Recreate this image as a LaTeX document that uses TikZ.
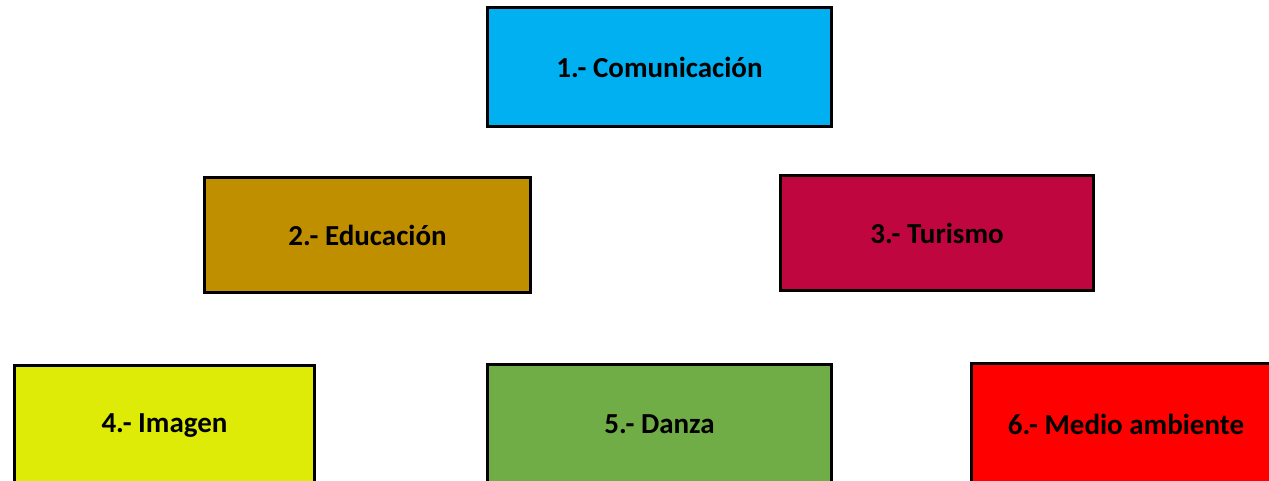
\documentclass[tikz,border=0pt]{standalone}
\usepackage{fontspec}
\setmainfont{Carlito}
\definecolor{cBlue}{HTML}{00B0F0}
\definecolor{cGold}{HTML}{BF8F00}
\definecolor{cRose}{HTML}{C0063E}
\definecolor{cLime}{HTML}{DDEB07}
\definecolor{cGreen}{HTML}{70AD47}
\definecolor{cRed}{HTML}{FF0000}
\begin{document}
\begin{tikzpicture}[x=1pt,y=1pt,
  box/.style={draw=black,line width=3pt,rectangle,inner sep=0pt,
    font=\fontsize{29}{33}\selectfont\bfseries,text=black}]
\useasboundingbox (0,0) rectangle (1269,-480);
\clip (0,0) rectangle (1269,-480);
\node[box,fill=cBlue,minimum width=344pt,minimum height=119pt] (n1) at (659.5,-67) {1.- Comunicación};
\node[box,fill=cGold,minimum width=326pt,minimum height=115pt] (n2) at (367.5,-235) {2.- Educación};
\node[box,fill=cRose,minimum width=313pt,minimum height=115pt] (n3) at (937,-233) {3.- Turismo};
\node[box,fill=cLime,minimum width=300pt,minimum height=121pt] (n4) at (164.5,-426) {4.- Imagen};
\node[box,fill=cGreen,minimum width=344pt,minimum height=119pt] (n5) at (659.5,-424) {5.- Danza};
\node[box,fill=cRed,minimum width=309pt,minimum height=121pt] (n6) at (1126,-424) {6.- Medio ambiente};
\end{tikzpicture}
\end{document}
